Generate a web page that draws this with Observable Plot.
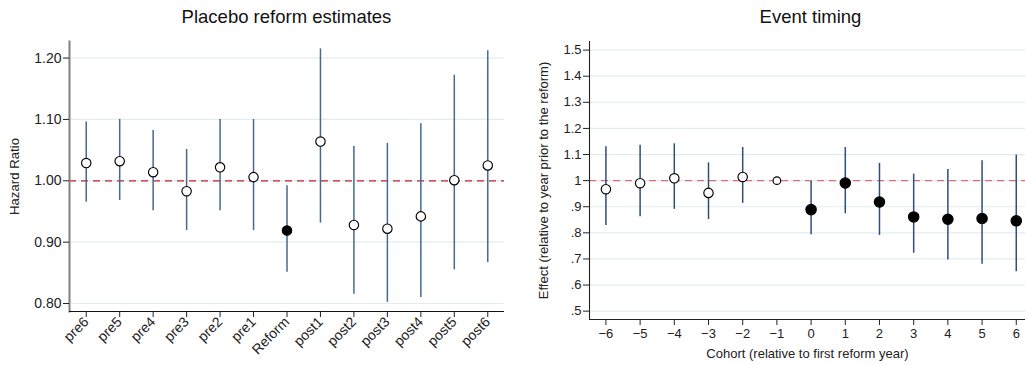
<!DOCTYPE html>
<html>
<head>
<meta charset="utf-8">
<script src="https://cdn.jsdelivr.net/npm/d3@7"></script>
<script src="https://cdn.jsdelivr.net/npm/@observablehq/plot@0.6"></script>
<style>
  html, body { margin: 0; padding: 0; background: #fff; overflow: hidden; }
  #wrap { position: relative; width: 1025px; height: 365px; font-family: "Liberation Sans", Arial, Helvetica, sans-serif; }
  .panel { position: absolute; top: 0; }
  .title { position: absolute; top: 8px; font-size: 18.5px; line-height: 18.5px; color: #111; text-align: center; white-space: nowrap; }
</style>
</head>
<body>
<div id="wrap">
  <div class="title" style="left:69px; width:435px;">Placebo reform estimates</div>
  <div class="title" style="left:589px; width:443px;">Event timing</div>
  <div class="panel" id="left" style="left:0;"></div>
  <div class="panel" id="right" style="left:512px;"></div>
</div>
<script>
// ---- Placebo reform estimates (hazard ratios with 95% CIs) ----
const placeboLabels = ["pre6", "pre5", "pre4", "pre3", "pre2", "pre1", "Reform",
                       "post1", "post2", "post3", "post4", "post5", "post6"];
const placeboEst = [1.029, 1.032, 1.014, 0.983, 1.022, 1.006, 0.919, 1.064, 0.928, 0.922, 0.942, 1.001, 1.025];
const placeboLo  = [0.965, 0.968, 0.951, 0.919, 0.951, 0.919, 0.851, 0.931, 0.815, 0.802, 0.810, 0.855, 0.867];
const placeboHi  = [1.096, 1.100, 1.082, 1.051, 1.100, 1.100, 0.992, 1.215, 1.056, 1.061, 1.093, 1.172, 1.212];
const placeboTicks = [0.8, 0.9, 1.0, 1.1, 1.2];
const placeboTickLabels = ["0.80", "0.90", "1.00", "1.10", "1.20"];

// ---- Event timing (effects relative to year before the reform) ----
const cohorts  = [-6, -5, -4, -3, -2, -1, 0, 1, 2, 3, 4, 5, 6];
const eventEst = [0.967, 0.990, 1.009, 0.953, 1.014, 1.000, 0.889, 0.991, 0.918, 0.861, 0.852, 0.855, 0.846];
const eventLo  = [0.828, 0.862, 0.890, 0.851, 0.913, null, 0.793, 0.873, 0.790, 0.722, 0.696, 0.680, 0.651];
const eventHi  = [1.130, 1.136, 1.141, 1.068, 1.127, null, 0.997, 1.127, 1.066, 1.025, 1.043, 1.076, 1.098];
const eventTicks = [0.5, 0.6, 0.7, 0.8, 0.9, 1.0, 1.1, 1.2, 1.3, 1.4, 1.5];
const eventTickLabels = [".5", ".6", ".7", ".8", ".9", "1", "1.1", "1.2", "1.3", "1.4", "1.5"];

const FONT = "'Liberation Sans', Arial, Helvetica, sans-serif";

const placebo = placeboLabels.map((label, i) => ({
  label, est: placeboEst[i], lo: placeboLo[i], hi: placeboHi[i]
}));
const events = cohorts.map((cohort, i) => ({
  cohort, est: eventEst[i], lo: eventLo[i], hi: eventHi[i]
}));

const leftYDomain = [0.787, 1.227];
const rightYDomain = [0.468, 1.533];

const leftChart = Plot.plot({
  width: 512, height: 365,
  marginLeft: 69, marginRight: 8, marginTop: 41, marginBottom: 54,
  style: { fontFamily: FONT, fontSize: "14px", color: "#222", background: "transparent", overflow: "visible" },
  x: { type: "point", domain: placeboLabels, padding: 0.5, round: false },
  y: { domain: leftYDomain },
  marks: [
    Plot.gridY(placeboTicks, { stroke: "#e3ecef", strokeOpacity: 1, strokeWidth: 1.2 }),
    Plot.ruleY([1], { stroke: "#c8202e", strokeWidth: 1.3, strokeDasharray: "7,5" }),
    Plot.ruleX(placebo, { x: "label", y1: "lo", y2: "hi", stroke: "#46698f", strokeWidth: 1.5 }),
    Plot.dot(placebo, {
      x: "label", y: "est", r: 4.7,
      fill: d => d.label === "Reform" ? "#000" : "#fff",
      stroke: "#000", strokeWidth: 1.15
    }),
    Plot.frame({ anchor: "left", stroke: "#808080", strokeWidth: 2 }),
    Plot.ruleY([leftYDomain[0]], { stroke: "#111", strokeWidth: 1.2 }),
    Plot.axisY(placeboTicks, {
      tickFormat: (d, i) => placeboTickLabels[i], tickSize: 6, tickPadding: 2,
      fontSize: 14, label: "Hazard Ratio", labelAnchor: "center", labelArrow: "none", labelOffset: 60
    }),
    Plot.axisX({ tickRotate: -45, tickSize: 6, tickPadding: 2, fontSize: 14, label: null })
  ]
});
leftChart.querySelectorAll("[aria-label='y-axis label'] text, [aria-label='y-axis label']").forEach(n => n.setAttribute("font-size", "13.2"));
document.getElementById("left").appendChild(leftChart);

const rightChart = Plot.plot({
  width: 513, height: 365,
  marginLeft: 77, marginRight: 0, marginTop: 41, marginBottom: 46,
  style: { fontFamily: FONT, fontSize: "13px", color: "#222", background: "transparent", overflow: "visible" },
  x: { domain: [-6.48, 6.27] },
  y: { domain: rightYDomain },
  r: { type: "identity" },
  marks: [
    Plot.gridY(eventTicks, { stroke: "#e3ecef", strokeOpacity: 1, strokeWidth: 1.2 }),
    Plot.ruleY([1], { stroke: "#d9707a", strokeWidth: 1.3, strokeDasharray: "7,5" }),
    Plot.ruleX(events.filter(d => d.lo != null), { x: "cohort", y1: "lo", y2: "hi", stroke: "#2f4e78", strokeWidth: 1.5 }),
    Plot.dot(events, {
      x: "cohort", y: "est",
      r: d => d.cohort === -1 ? 3.8 : (d.cohort >= 0 ? 5.2 : 4.7),
      fill: d => d.cohort >= 0 ? "#000" : "#fff",
      stroke: "#000", strokeWidth: 1.15
    }),
    Plot.frame({ anchor: "left", stroke: "#222", strokeWidth: 1.1 }),
    Plot.ruleY([rightYDomain[0]], { stroke: "#222", strokeWidth: 1.1 }),
    Plot.axisY(eventTicks, {
      tickFormat: (d, i) => eventTickLabels[i], tickSize: 6, tickPadding: 2,
      fontSize: 13, label: "Effect (relative to year prior to the reform)",
      labelAnchor: "center", labelArrow: "none", labelOffset: 51
    }),
    Plot.axisX(cohorts, {
      tickSize: 6, tickPadding: 3, fontSize: 13,
      label: "Cohort (relative to first reform year)", labelAnchor: "center", labelArrow: "none", labelOffset: 38
    })
  ]
});
document.getElementById("right").appendChild(rightChart);
</script>
</body>
</html>
